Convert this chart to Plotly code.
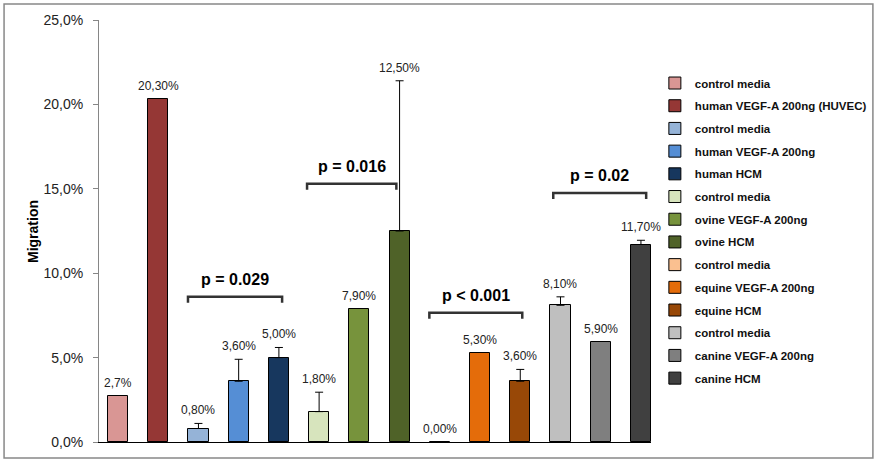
import plotly.graph_objects as go

# ---- data ----
series_names = [
    "control media", "human VEGF-A 200ng (HUVEC)",
    "control media", "human VEGF-A 200ng", "human HCM",
    "control media", "ovine VEGF-A 200ng", "ovine HCM",
    "control media", "equine VEGF-A 200ng", "equine HCM",
    "control media", "canine VEGF-A 200ng", "canine HCM",
]
migration = [2.7, 20.3, 0.8, 3.6, 5.0, 1.8, 7.9, 12.5, 0.0, 5.3, 3.6, 8.1, 5.9, 11.7]
errors = [0, 0, 0.3, 1.3, 0.6, 1.15, 0, 8.9, 0, 0, 0.7, 0.5, 0, 0.25]
value_labels = ["2,7%", "20,30%", "0,80%", "3,60%", "5,00%", "1,80%", "7,90%",
                "12,50%", "0,00%", "5,30%", "3,60%", "8,10%", "5,90%", "11,70%"]
colors = ["#D99694", "#953735", "#95B3D7", "#558ED5", "#17375E", "#D7E4BD",
          "#77933C", "#4F6228", "#FAC090", "#E46C0A", "#984807", "#BFBFBF",
          "#7F7F7F", "#404040"]
y_tickvals = [0, 5, 10, 15, 20, 25]
y_ticktext = ["0,0%", "5,0%", "10,0%", "15,0%", "20,0%", "25,0%"]

p_labels = ["p = 0.029", "p = 0.016", "p < 0.001", "p = 0.02"]
bracket_x0 = [1.74, 4.70, 7.74, 10.82]
bracket_x1 = [4.08, 6.92, 10.05, 13.13]
bracket_y = [8.6, 15.3, 7.65, 14.75]

FONT = "Arial, Liberation Sans, sans-serif"

fig = go.Figure()
for i, name in enumerate(series_names):
    fig.add_trace(go.Bar(
        x=[i], y=[migration[i]], name=name, width=0.5,
        marker=dict(color=colors[i], line=dict(color="black", width=1)),
        error_y=dict(type="data", array=[errors[i]], symmetric=False, arrayminus=[0],
                     visible=errors[i] > 0, color="black", thickness=1, width=4),
        legendgroup=f"g{i}", showlegend=True,
    ))
    fig.add_annotation(x=i, y=migration[i] + errors[i], text=value_labels[i],
                       showarrow=False, yanchor="bottom", yshift=4,
                       font=dict(family=FONT, size=12, color="#222"))

shapes = []
for x0, x1, yb, lab in zip(bracket_x0, bracket_x1, bracket_y, p_labels):
    path = (f"M {x0},{yb - 0.35} L {x0},{yb} L {x1},{yb} L {x1},{yb - 0.35}")
    shapes.append(dict(type="path", path=path, xref="x", yref="y",
                       line=dict(color="#333", width=2.5)))
    fig.add_annotation(x=(x0 + x1) / 2, y=yb, text=f"<b>{lab}</b>", showarrow=False,
                       yanchor="bottom", yshift=7,
                       font=dict(family=FONT, size=16, color="black"))

# outer border
shapes.append(dict(type="rect", xref="paper", yref="paper",
                   x0=-0.172, x1=1.402, y0=-0.038, y1=1.038,
                   line=dict(color="#888", width=1.5)))

fig.add_annotation(xref="paper", yref="paper", x=-0.1196, y=0.5, text="<b>Migration</b>",
                   textangle=-90, showarrow=False, xanchor="center", yanchor="middle",
                   font=dict(family=FONT, size=14, color="black"))

fig.update_layout(
    width=879, height=465,
    margin=dict(l=99, r=228, t=20, b=23, autoexpand=False),
    plot_bgcolor="white", paper_bgcolor="white",
    shapes=shapes,
    bargap=0,
    legend=dict(x=1.007, y=0.885, xanchor="left", yanchor="top",
                font=dict(family=FONT, size=11.5, color="#111", weight="bold"),
                tracegroupgap=3.7, traceorder="grouped", itemwidth=30,
                bgcolor="rgba(0,0,0,0)"),
    xaxis=dict(range=[-0.472, 13.25], showticklabels=False, ticks="",
               showline=True, linecolor="black", linewidth=1, showgrid=False,
               zeroline=False, fixedrange=True, automargin=False),
    yaxis=dict(range=[0, 25], tickvals=y_tickvals, ticktext=y_ticktext,
               ticks="outside", ticklen=5, tickcolor="#868686",
               showline=True, linecolor="#868686", linewidth=1,
               showgrid=False, zeroline=False, ticklabelstandoff=7, automargin=False,
               tickfont=dict(family=FONT, size=14, color="#222")),
    font=dict(family=FONT),
)

fig.write_html("out.html", config={"displayModeBar": False},
               post_script="document.body.style.margin='0';document.body.style.overflow='hidden';")
